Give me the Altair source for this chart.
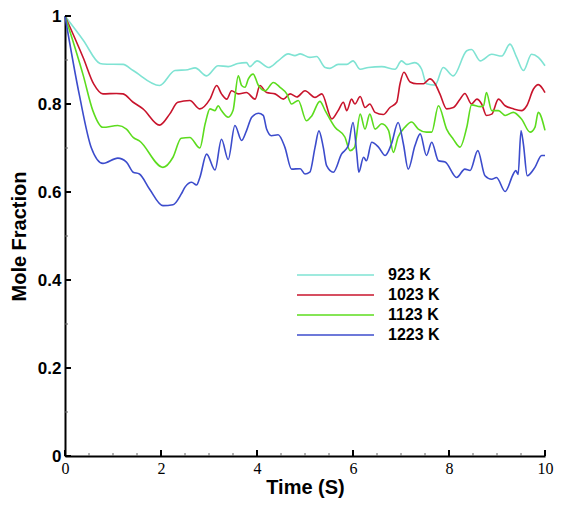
import altair as alt
import pandas as pd

# ---- data ----
series_names = ["923 K", "1023 K", "1123 K", "1223 K"]
series_colors = ["#7fe3d3", "#c8142c", "#5cdc1e", "#3c4ccc"]
series_widths = [1.6, 1.6, 2.0, 1.3]

s923 = [(0, 1.0), (0.38, 0.945), (0.73, 0.892), (0.79, 0.891), (1.21, 0.89), (1.42, 0.876),
        (1.97, 0.842), (2.29, 0.876), (2.56, 0.878), (2.71, 0.882), (2.95, 0.864), (3.19, 0.887),
        (3.4, 0.885), (3.6, 0.892), (3.78, 0.894), (3.85, 0.885), (4.0, 0.898), (4.24, 0.883),
        (4.44, 0.898), (4.65, 0.914), (4.79, 0.910), (4.9, 0.914), (5.1, 0.906), (5.24, 0.908),
        (5.42, 0.883), (5.52, 0.881), (5.69, 0.890), (5.87, 0.890), (6.0, 0.898), (6.15, 0.879),
        (6.32, 0.883), (6.6, 0.885), (6.875, 0.879), (7.01, 0.898), (7.12, 0.890), (7.29, 0.894),
        (7.43, 0.879), (7.53, 0.846), (7.71, 0.843), (7.88, 0.883), (8.09, 0.864), (8.37, 0.921),
        (8.47, 0.924), (8.65, 0.898), (8.89, 0.913), (9.1, 0.909), (9.27, 0.936), (9.41, 0.906),
        (9.55, 0.876), (9.72, 0.913), (9.86, 0.906), (10.0, 0.887)]

s1023 = [(0, 1.0), (0.38, 0.905), (0.6, 0.845), (0.79, 0.823), (1.07, 0.824), (1.21, 0.823),
         (1.42, 0.804), (1.625, 0.789), (1.97, 0.752), (2.18, 0.777), (2.35, 0.804), (2.6, 0.808),
         (2.81, 0.789), (3.02, 0.811), (3.16, 0.842), (3.26, 0.823), (3.37, 0.811), (3.47, 0.83),
         (3.61, 0.823), (3.78, 0.826), (3.96, 0.811), (4.06, 0.842), (4.2, 0.826), (4.375, 0.823),
         (4.55, 0.811), (4.69, 0.823), (4.83, 0.816), (5.0, 0.83), (5.21, 0.815), (5.35, 0.823),
         (5.56, 0.766), (5.69, 0.785), (5.8, 0.804), (5.87, 0.785), (5.97, 0.811), (6.04, 0.80),
         (6.15, 0.817), (6.25, 0.792), (6.35, 0.80), (6.46, 0.781), (6.63, 0.776), (6.77, 0.792),
         (6.91, 0.804), (6.98, 0.846), (7.06, 0.872), (7.19, 0.85), (7.33, 0.846), (7.47, 0.846),
         (7.6, 0.857), (7.71, 0.846), (7.81, 0.823), (7.95, 0.789), (8.09, 0.792), (8.23, 0.811),
         (8.33, 0.824), (8.47, 0.80), (8.58, 0.811), (8.68, 0.80), (8.78, 0.774), (8.89, 0.777),
         (9.03, 0.811), (9.17, 0.796), (9.34, 0.789), (9.51, 0.785), (9.62, 0.796), (9.76, 0.834),
         (9.86, 0.844), (10.0, 0.826)]

s1123 = [(0, 1.0), (0.38, 0.865), (0.58, 0.785), (0.79, 0.747), (1.1, 0.751), (1.28, 0.743),
         (1.42, 0.724), (1.55, 0.716), (2.04, 0.656), (2.25, 0.679), (2.42, 0.722), (2.6, 0.724),
         (2.81, 0.70), (2.92, 0.755), (3.02, 0.789), (3.125, 0.785), (3.19, 0.796), (3.26, 0.785),
         (3.4, 0.77), (3.5, 0.785), (3.61, 0.864), (3.68, 0.842), (3.75, 0.838), (3.82, 0.857),
         (3.92, 0.868), (4.03, 0.842), (4.17, 0.83), (4.34, 0.849), (4.48, 0.838), (4.62, 0.823),
         (4.72, 0.80), (4.86, 0.808), (5.03, 0.762), (5.14, 0.773), (5.31, 0.806), (5.42, 0.785),
         (5.625, 0.747), (5.83, 0.725), (5.94, 0.694), (6.03, 0.701), (6.15, 0.777), (6.25, 0.743),
         (6.35, 0.777), (6.46, 0.743), (6.6, 0.755), (6.74, 0.74), (6.84, 0.69), (6.94, 0.725),
         (7.08, 0.747), (7.22, 0.759), (7.36, 0.743), (7.53, 0.736), (7.64, 0.736), (7.78, 0.796),
         (7.95, 0.743), (8.09, 0.72), (8.23, 0.702), (8.37, 0.747), (8.47, 0.798), (8.65, 0.794),
         (8.72, 0.796), (8.78, 0.826), (8.89, 0.785), (9.03, 0.785), (9.17, 0.774), (9.34, 0.781),
         (9.51, 0.766), (9.69, 0.736), (9.79, 0.747), (9.86, 0.781), (10.0, 0.740)]

s1223 = [(0, 1.0), (0.3, 0.82), (0.55, 0.70), (0.79, 0.665), (1.1, 0.677), (1.28, 0.668),
         (1.42, 0.645), (1.55, 0.641), (1.76, 0.607), (2.04, 0.569), (2.25, 0.571), (2.42, 0.595),
         (2.5, 0.611), (2.64, 0.622), (2.74, 0.616), (2.81, 0.633), (2.95, 0.686), (3.125, 0.65),
         (3.26, 0.72), (3.4, 0.674), (3.54, 0.751), (3.68, 0.717), (3.78, 0.739), (3.89, 0.77),
         (4.03, 0.779), (4.13, 0.774), (4.2, 0.743), (4.3, 0.728), (4.44, 0.73), (4.58, 0.702),
         (4.72, 0.652), (4.9, 0.653), (5.0, 0.641), (5.1, 0.645), (5.21, 0.702), (5.29, 0.739),
         (5.38, 0.702), (5.45, 0.66), (5.59, 0.645), (5.76, 0.686), (5.9, 0.705), (6.0, 0.758),
         (6.08, 0.686), (6.12, 0.645), (6.22, 0.679), (6.28, 0.671), (6.39, 0.713), (6.53, 0.702),
         (6.67, 0.683), (6.8, 0.709), (6.94, 0.758), (7.05, 0.709), (7.15, 0.652), (7.29, 0.705),
         (7.4, 0.732), (7.53, 0.683), (7.64, 0.713), (7.78, 0.671), (7.92, 0.668), (8.16, 0.633),
         (8.33, 0.652), (8.44, 0.649), (8.6, 0.694), (8.75, 0.637), (8.89, 0.629), (8.99, 0.633),
         (9.17, 0.601), (9.34, 0.641), (9.39, 0.649), (9.44, 0.64), (9.5, 0.739), (9.55, 0.709),
         (9.63, 0.637), (9.79, 0.656), (9.93, 0.683), (10.0, 0.683)]

x_major = [0, 2, 4, 6, 8, 10]
x_minor = [0.5, 1, 1.5, 2.5, 3, 3.5, 4.5, 5, 5.5, 6.5, 7, 7.5, 8.5, 9, 9.5]
y_major = [0, 0.2, 0.4, 0.6, 0.8, 1.0]
y_minor = [0.1, 0.3, 0.5, 0.7, 0.9]

# ---- build table ----
rows = []
for name, pts in zip(series_names, [s923, s1023, s1123, s1223]):
    for t, v in pts:
        rows.append({"series": name, "t": t, "v": v})
df = pd.DataFrame(rows)

xs = alt.Scale(domain=[0, 10], nice=False, zero=False)
ys = alt.Scale(domain=[0, 1], nice=False, zero=False)

x_axis = alt.Axis(values=x_major, format="d", labelFont="Liberation Serif", labelFontSize=16,
                  labelFontWeight="normal", labelColor="black", labelPadding=4, labelFlush=False,
                  labelOverlap=False, ticks=False, grid=False, domainColor="black", domainWidth=2,
                  title="Time (S)", titleFont="Liberation Sans", titleFontSize=20,
                  titleFontWeight="bold", titleColor="black", titleY=37,
                  titleBaseline="alphabetic")
y_axis = alt.Axis(values=y_major, format="~g", labelFont="Liberation Sans", labelFontSize=17,
                  labelFontWeight="bold", labelColor="black", labelPadding=4, labelOverlap=False,
                  ticks=False, grid=False, domainColor="black", domainWidth=2,
                  title="Mole Fraction", titleFont="Liberation Sans", titleFontSize=20,
                  titleFontWeight="bold", titleColor="black", titleAngle=270,
                  titleX=-40, titleY=220, titleAlign="center", titleBaseline="alphabetic")

lines = alt.Chart(df).mark_line(interpolate="monotone").encode(
    x=alt.X("t:Q", scale=xs, axis=x_axis),
    y=alt.Y("v:Q", scale=ys, axis=y_axis),
    color=alt.Color("series:N", sort=series_names,
                    scale=alt.Scale(domain=series_names, range=series_colors),
                    legend=alt.Legend(orient="none", legendX=231, legendY=250, title=None,
                                      symbolType="stroke", symbolSize=5929,
                                      symbolStrokeWidth=1.6, clipHeight=18, rowPadding=2,
                                      labelFont="Liberation Sans", labelFontSize=16,
                                      labelFontWeight="bold", labelColor="black",
                                      labelOffset=13, padding=0)),
    strokeWidth=alt.StrokeWidth("series:N", sort=series_names,
                                scale=alt.Scale(domain=series_names, range=series_widths),
                                legend=None),
)

xmaj = alt.Chart(pd.DataFrame({"t": x_major})).mark_rule(color="black", strokeWidth=2).encode(
    x=alt.X("t:Q", scale=xs), y=alt.value(440), y2=alt.value(434))
xmin = alt.Chart(pd.DataFrame({"t": x_minor})).mark_rule(color="#666666", strokeWidth=1).encode(
    x=alt.X("t:Q", scale=xs), y=alt.value(440), y2=alt.value(437))
ymaj = alt.Chart(pd.DataFrame({"v": y_major})).mark_rule(color="black", strokeWidth=2).encode(
    y=alt.Y("v:Q", scale=ys), x=alt.value(0), x2=alt.value(6))
ymin = alt.Chart(pd.DataFrame({"v": y_minor})).mark_rule(color="#666666", strokeWidth=1).encode(
    y=alt.Y("v:Q", scale=ys), x=alt.value(0), x2=alt.value(3))

chart = alt.layer(lines, xmin, xmaj, ymin, ymaj).properties(
    width=480, height=440,
    padding={"left": 57, "top": 8, "right": 10, "bottom": 43},
    autosize=alt.AutoSizeParams(type="none"),
    background="white",
).configure_view(strokeWidth=0)

chart.save("out.html", embed_options={"renderer": "svg", "actions": False})
